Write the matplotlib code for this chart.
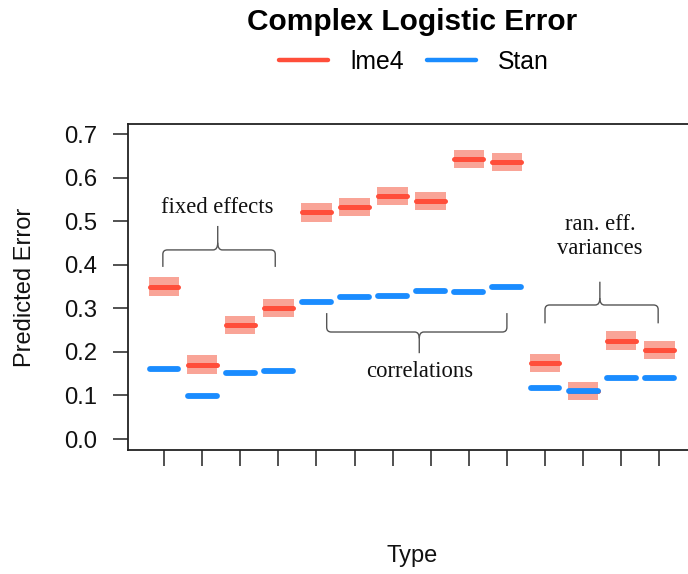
import matplotlib
matplotlib.use("Agg")
import matplotlib.pyplot as plt
from matplotlib.path import Path
from matplotlib.patches import PathPatch, Rectangle
from matplotlib.lines import Line2D

plt.rcParams['font.family'] = ['Liberation Sans', 'DejaVu Sans']

# ---- data ----
categories = list(range(1, 15))
lme4 = [0.350, 0.171, 0.262, 0.300, 0.520, 0.533, 0.558, 0.547, 0.642, 0.636, 0.175, 0.110, 0.226, 0.204]
lme4_lo = [0.329, 0.150, 0.241, 0.279, 0.499, 0.512, 0.537, 0.526, 0.621, 0.615, 0.154, 0.090, 0.205, 0.183]
lme4_hi = [0.371, 0.192, 0.283, 0.321, 0.541, 0.554, 0.579, 0.568, 0.663, 0.657, 0.196, 0.131, 0.247, 0.225]
stan = [0.161, 0.099, 0.151, 0.155, 0.315, 0.327, 0.329, 0.340, 0.338, 0.350, 0.116, 0.110, 0.139, 0.141]
stan_lo = [0.157, 0.095, 0.147, 0.151, 0.311, 0.323, 0.325, 0.336, 0.334, 0.346, 0.112, 0.106, 0.135, 0.137]
stan_hi = [0.165, 0.103, 0.155, 0.159, 0.319, 0.331, 0.333, 0.344, 0.342, 0.354, 0.120, 0.114, 0.143, 0.145]
yticks = [0.0, 0.1, 0.2, 0.3, 0.4, 0.5, 0.6, 0.7]
ytick_labels = ["0.0", "0.1", "0.2", "0.3", "0.4", "0.5", "0.6", "0.7"]

RED = "#ff4e3a"
RED_CI = "#f9a497"
BLUE = "#1a8cff"
BLUE_CI = "#8cc6ff"

W, H = 688, 574
fig = plt.figure(figsize=(W / 100, H / 100), dpi=100)
left_px, right_px, top_px, bot_px = 128, 702, 124, 450
ax = fig.add_axes([left_px / W, 1 - bot_px / H, (right_px - left_px) / W, (bot_px - top_px) / H])

half_rect = 0.40
half_line = 0.38
for x, lo, hi in zip(categories, lme4_lo, lme4_hi):
    ax.add_patch(Rectangle((x - half_rect, lo), 2 * half_rect, hi - lo, facecolor=RED_CI,
                           edgecolor='none', zorder=2))
for x, v in zip(categories, lme4):
    ax.plot([x - half_line, x + half_line], [v, v], color=RED, lw=3.6,
            solid_capstyle='round', zorder=3)
for x, lo, hi in zip(categories, stan_lo, stan_hi):
    ax.add_patch(Rectangle((x - half_rect, lo), 2 * half_rect, hi - lo, facecolor=BLUE_CI,
                           edgecolor='none', zorder=4))
for x, v in zip(categories, stan):
    ax.plot([x - half_line, x + half_line], [v, v], color=BLUE, lw=4.2,
            solid_capstyle='round', zorder=5)

# scales
px_per_unit = 38.1
x0 = 1 - (164 - left_px) / px_per_unit
ax.set_xlim(x0, x0 + (right_px - left_px) / px_per_unit)
ax.set_ylim(-0.0252, 0.723)

ax.set_xticks(categories)
ax.set_xticklabels([""] * len(categories))
ax.set_yticks(yticks)
ax.set_yticklabels(ytick_labels, fontsize=17.2, color="#111111")
ax.tick_params(axis='y', length=11, width=1.1, pad=11, colors="#222222", labelcolor="#111111")
ax.tick_params(axis='x', length=11.5, width=1.1, colors="#222222")
for s in ['left', 'top', 'bottom']:
    ax.spines[s].set_linewidth(1.3)
    ax.spines[s].set_color("#222222")
ax.spines['right'].set_visible(False)


def brace(ax, x1, x2, ybar, yend, xtip, ytip, r=0.12, color="#555555"):
    # curly brace: ends at yend, bar at ybar, tip at ytip
    d = ybar - yend
    dt = ytip - ybar
    c = 0.25 * d
    verts = [
        (x1, yend), (x1, ybar - c), (x1, ybar), (x1 + r, ybar),
        (xtip - r, ybar), (xtip, ybar), (xtip, ybar + 0.3 * dt),
        (xtip, ytip),
    ]
    codes = [Path.MOVETO, Path.LINETO, Path.CURVE3, Path.CURVE3,
             Path.LINETO, Path.CURVE3, Path.CURVE3, Path.LINETO]
    verts2 = [
        (x2, yend), (x2, ybar - c), (x2, ybar), (x2 - r, ybar),
        (xtip + r, ybar), (xtip, ybar), (xtip, ybar + 0.3 * dt),
    ]
    codes2 = [Path.MOVETO, Path.LINETO, Path.CURVE3, Path.CURVE3,
              Path.LINETO, Path.CURVE3, Path.CURVE3]
    for v, cds in ((verts, codes), (verts2, codes2)):
        ax.add_patch(PathPatch(Path(v, cds), facecolor='none', edgecolor=color, lw=1.0,
                               zorder=6, capstyle='butt'))


serif = ['Liberation Serif', 'DejaVu Serif']
# fixed effects
brace(ax, 0.97, 3.92, 0.434, 0.395, 2.41, 0.489)
ax.text(2.41, 0.532, "fixed effects", family=serif, fontsize=16.3, ha='center', va='center',
        color="#111111")
# correlations
brace(ax, 5.27, 10.0, 0.2456, 0.289, 7.70, 0.197)
ax.text(7.70, 0.154, "correlations", family=serif, fontsize=16.3, ha='center', va='center',
        color="#111111")
# random effect variances
brace(ax, 11.0, 13.97, 0.3076, 0.2655, 12.44, 0.361)
ax.text(12.44, 0.465, "ran. eff.\nvariances", family=serif, fontsize=16.3, ha='center',
        va='center', color="#111111", linespacing=1.2)

# titles / labels
fig.text(412 / W, 1 - 22 / H, "Complex Logistic Error", fontsize=21.5, fontweight='bold',
         ha='center', va='center')
fig.text(25 / W, 1 - 287 / H, "Predicted Error", fontsize=17, rotation=90,
         ha='center', va='center', color="#111111")
fig.text(412 / W, 1 - 556 / H, "Type", fontsize=17, ha='center', va='center', color="#111111")

handles = [Line2D([], [], color=RED, lw=3.2, solid_capstyle='round'),
           Line2D([], [], color=BLUE, lw=3.2, solid_capstyle='round')]
fig.legend(handles, ["lme4", "Stan"], loc='center', bbox_to_anchor=(414 / W, 1 - 62 / H),
           ncol=2, frameon=False, fontsize=17.8, handlelength=2.0, handletextpad=0.9,
           columnspacing=0.9)

fig.savefig("out.png", dpi=100)
